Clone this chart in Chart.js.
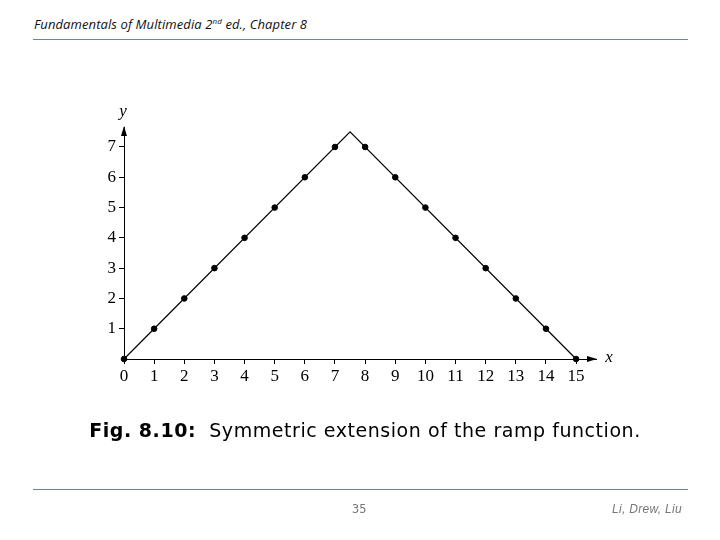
<!DOCTYPE html>
<html>
<head>
<meta charset="utf-8">
<script src="https://cdn.jsdelivr.net/npm/chart.js@4"></script>
<style>
  html, body { margin: 0; padding: 0; background: #fff; }
  body { width: 720px; height: 540px; position: relative; overflow: hidden; }
  #chart-box { position: absolute; left: 0; top: 0; width: 720px; height: 540px; }
  .head { position: absolute; left: 34px; top: 15px; font: italic 13px "Open Sans", sans-serif; color: #111; letter-spacing: 0.1px; }
  .head sup { font-size: 8px; }
  .rule { position: absolute; left: 33px; width: 655px; height: 1px; background: #6a8797; }
  .caption { position: absolute; left: 0; width: 730px; top: 419px; text-align: center;
             font: 19px "DejaVu Sans", sans-serif; color: #000; letter-spacing: 0.55px; }
  .page { position: absolute; left: 352px; top: 502px; font: 12px "DejaVu Sans Mono", monospace; color: #777; }
  .authors { position: absolute; right: 38px; top: 502px; font: italic 12px "Liberation Sans", sans-serif; color: #777; letter-spacing: 0.3px; }
</style>
</head>
<body>
<div class="head">Fundamentals of Multimedia 2<sup>nd</sup> ed., Chapter 8</div>
<div class="rule" style="top:39px"></div>
<div id="chart-box"><canvas id="ramp-chart" width="720" height="540"></canvas></div>
<div class="caption"><b>Fig. 8.10:</b>&nbsp; Symmetric extension of the ramp function.</div>
<div class="rule" style="top:489px"></div>
<div class="page">35</div>
<div class="authors">Li, Drew, Liu</div>

<script>
// sample positions and values
const sampleX = [0, 1, 2, 3, 4, 5, 6, 7, 8, 9, 10, 11, 12, 13, 14, 15];
const sampleY = [0, 1, 2, 3, 4, 5, 6, 7, 7, 6, 5, 4, 3, 2, 1, 0];

// the continuous symmetric ramp (corners of the line)
const rampX = [0, 7.5, 15];
const rampY = [0, 7.5, 0];

// axis ranges and ticks
const xRange = [0, 15.66];
const yRange = [0, 7.66];
const xTicks = [0, 1, 2, 3, 4, 5, 6, 7, 8, 9, 10, 11, 12, 13, 14, 15];
const yTicks = [1, 2, 3, 4, 5, 6, 7];

const chartCanvas = document.getElementById("ramp-chart");
const serif = "'Liberation Serif', 'DejaVu Serif', serif";

// arrows at the end of the axes plus the x / y names
const axisArrows = {
    id: "axisArrows",
    afterDraw(chart) {
        const ctx = chart.ctx;
        const a = chart.chartArea;
        const x0 = chart.scales.x.getPixelForValue(0);
        const y0 = chart.scales.y.getPixelForValue(0);
        ctx.save();
        ctx.fillStyle = "#000";
        // x arrow
        ctx.beginPath();
        ctx.moveTo(a.right + 1, y0);
        ctx.lineTo(a.right - 9, y0 - 3);
        ctx.lineTo(a.right - 9, y0 + 3);
        ctx.closePath();
        ctx.fill();
        // y arrow
        ctx.beginPath();
        ctx.moveTo(x0, a.top - 1);
        ctx.lineTo(x0 - 3, a.top + 9);
        ctx.lineTo(x0 + 3, a.top + 9);
        ctx.closePath();
        ctx.fill();
        ctx.font = "italic 17px " + serif;
        ctx.textAlign = "center";
        ctx.textBaseline = "middle";
        ctx.fillText("x", a.right + 13, y0 - 1);
        ctx.fillText("y", x0 - 1, a.top - 15);
        ctx.restore();
    }
};

const data = {
    datasets: [
        {
            type: "line",
            data: rampX.map((x, i) => ({ x, y: rampY[i] })),
            borderColor: "#000",
            borderWidth: 1.2,
            pointRadius: 0,
            tension: 0,
            clip: false
        },
        {
            type: "scatter",
            data: sampleX.map((x, i) => ({ x, y: sampleY[i] })),
            backgroundColor: "#000",
            borderColor: "#000",
            pointRadius: 2.8,
            clip: false
        }
    ]
};

const options = {
    responsive: false,
    animation: false,
    layout: { padding: { left: 84, right: 124, top: 127, bottom: 151 } },
    plugins: { legend: { display: false }, tooltip: { enabled: false } },
    scales: {
        x: {
            type: "linear",
            min: xRange[0],
            max: xRange[1],
            afterFit: s => { s.height = 30; },
            afterBuildTicks: s => { s.ticks = xTicks.map(v => ({ value: v })); },
            grid: { drawOnChartArea: false, tickLength: 5, color: "#000", tickWidth: 1 },
            border: { color: "#000", width: 1 },
            ticks: { color: "#000", padding: 2, font: { family: serif, size: 17 }, maxRotation: 0, autoSkip: false }
        },
        y: {
            type: "linear",
            min: yRange[0],
            max: yRange[1],
            afterFit: s => { s.width = 40; },
            afterBuildTicks: s => { s.ticks = yTicks.map(v => ({ value: v })); },
            grid: { drawOnChartArea: false, tickLength: 5, color: "#000", tickWidth: 1 },
            border: { color: "#000", width: 1 },
            ticks: { color: "#000", padding: 3, font: { family: serif, size: 17 }, autoSkip: false }
        }
    }
};

new Chart(chartCanvas, { type: "scatter", data, options, plugins: [axisArrows] });
</script>
</body>
</html>
